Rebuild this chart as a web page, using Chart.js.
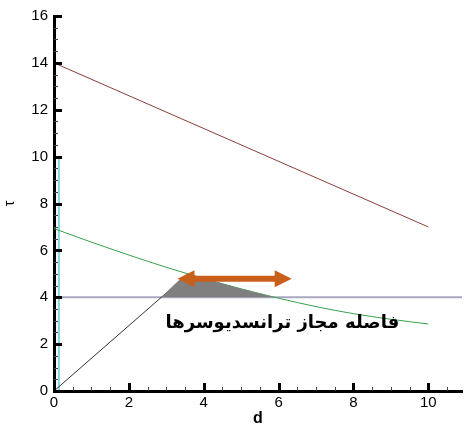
<!DOCTYPE html>
<html>
<head>
<meta charset="utf-8">
<script src="https://cdn.jsdelivr.net/npm/chart.js@4.4.1/dist/chart.umd.min.js"></script>
<style>
  html, body { margin: 0; padding: 0; background: #ffffff; }
  #wrap { width: 464px; height: 425px; }
</style>
</head>
<body>
<div id="wrap"><canvas id="c" width="464" height="425"></canvas></div>
<script>
// Axis ranges and tick labels
const xMax = 10.9;
const yMax = 16;
const tickStep = 2;

// Upper straight line
const upperD = [0, 10];
const upperTau = [14, 7];

// Decaying curve
const decayD = [0, 1, 2, 3, 4, 5, 6, 7, 8, 9, 10];
const decayTau = [6.93, 6.35, 5.8, 5.28, 4.8, 4.36, 3.96, 3.6, 3.3, 3.06, 2.86];

// Ramp from the origin
const rampD = [0, 3.55];
const rampTau = [0, 4.95];

// Horizontal limit
const limitD = [0, 10.9];
const limitTau = [4, 4];

// Vertical marker near d = 0
const markerD = [0.13, 0.13];
const markerTau = [0, 9.9];

// Shaded band above the limit
const bandD = [2.87, 3.55, 4, 5, 5.88];
const bandTau = [4, 4.95, 4.8, 4.36, 4.0];

// Double arrow span
const spanD = [3.3, 6.35];
const spanTau = 4.79;

// Annotation text and its anchor
const noteText = 'فاصله مجاز ترانسدیوسرها';
const noteD = 6.1;
const noteTau = 2.9;

const pts = (xs, ys) => xs.map((v, i) => ({ x: v, y: ys[i] }));

const innerTicks = {
  id: 'innerTicks',
  afterDraw(chart) {
    const { ctx, chartArea: a, scales: { x, y } } = chart;
    ctx.save();
    // x axis ticks pointing up into the plot
    for (let k = 0; k * 0.5 <= xMax + 1e-9; k++) {
      const v = k * 0.5;
      const px = Math.round(x.getPixelForValue(v)) + 0.5;
      const major = k % 4 === 0;
      ctx.beginPath();
      ctx.strokeStyle = major ? '#000' : '#444';
      ctx.lineWidth = major ? 3 : 1;
      ctx.moveTo(px, a.bottom);
      ctx.lineTo(px, a.bottom - (major ? 8 : 4));
      ctx.stroke();
    }
    // y axis ticks pointing right into the plot
    for (let k = 0; k * 0.5 <= yMax + 1e-9; k++) {
      const v = k * 0.5;
      const py = Math.round(y.getPixelForValue(v)) + 0.5;
      const major = k % 4 === 0;
      ctx.beginPath();
      ctx.strokeStyle = major ? '#000' : '#444';
      ctx.lineWidth = major ? 3 : 1;
      ctx.moveTo(a.left, py);
      ctx.lineTo(a.left + (major ? 8 : 4), py);
      ctx.stroke();
    }
    ctx.restore();
  }
};

const spanArrow = {
  id: 'spanArrow',
  afterDatasetsDraw(chart) {
    const { ctx, scales: { x, y } } = chart;
    const x1 = x.getPixelForValue(spanD[0]);
    const x2 = x.getPixelForValue(spanD[1]);
    const py = y.getPixelForValue(spanTau);
    const head = 17, half = 8.5;
    ctx.save();
    ctx.fillStyle = '#c85f1a';
    ctx.strokeStyle = '#c85f1a';
    ctx.lineWidth = 6;
    ctx.beginPath();
    ctx.moveTo(x1 + head - 2, py);
    ctx.lineTo(x2 - head + 2, py);
    ctx.stroke();
    ctx.beginPath();
    ctx.moveTo(x1, py);
    ctx.lineTo(x1 + head, py - half);
    ctx.lineTo(x1 + head, py + half);
    ctx.closePath();
    ctx.fill();
    ctx.beginPath();
    ctx.moveTo(x2, py);
    ctx.lineTo(x2 - head, py - half);
    ctx.lineTo(x2 - head, py + half);
    ctx.closePath();
    ctx.fill();

    // annotation text
    ctx.fillStyle = '#000';
    ctx.font = 'bold 18px "DejaVu Sans", sans-serif';
    ctx.direction = 'rtl';
    ctx.textAlign = 'center';
    ctx.textBaseline = 'middle';
    ctx.fillText(noteText, x.getPixelForValue(noteD), y.getPixelForValue(noteTau));
    ctx.restore();
  }
};

const lineSet = (data, color, width) => ({
  data, borderColor: color, borderWidth: width, showLine: true,
  pointRadius: 0, fill: false, tension: 0
});

new Chart(document.getElementById('c'), {
  type: 'scatter',
  data: {
    datasets: [
      {
        data: pts(bandD, bandTau), showLine: true, borderWidth: 0,
        borderColor: 'rgba(0,0,0,0)', backgroundColor: '#7f7f7f',
        pointRadius: 0, fill: { value: 4 }, tension: 0.3
      },
      lineSet(pts(upperD, upperTau), '#8c3c3c', 1),
      Object.assign(lineSet(pts(decayD, decayTau), '#3aa04a', 1), { tension: 0.4, cubicInterpolationMode: 'monotone' }),
      lineSet(pts(rampD, rampTau), '#333333', 1),
      lineSet(pts(limitD, limitTau), '#a8a8c0', 2),
      lineSet(pts(markerD, markerTau), '#7fd6de', 2)
    ]
  },
  options: {
    responsive: false,
    devicePixelRatio: 1,
    animation: false,
    layout: { padding: { top: 16, right: 2, left: 0, bottom: 0 } },
    plugins: { legend: { display: false }, tooltip: { enabled: false } },
    scales: {
      x: {
        type: 'linear', min: 0, max: xMax,
        grid: { display: false, drawTicks: false, tickLength: 0 },
        border: { display: true, color: '#000', width: 3 },
        ticks: {
          stepSize: tickStep, includeBounds: false, padding: 3,
          color: '#000', font: { family: '"Liberation Sans", Arial, sans-serif', size: 15 }
        },
        title: {
          display: true, text: 'd', color: '#000', padding: { top: 0, bottom: -2 },
          font: { family: '"Liberation Sans", Arial, sans-serif', size: 16, weight: 'bold', lineHeight: 1 }
        },
        afterFit(s) { s.height = 34; }
      },
      y: {
        type: 'linear', min: 0, max: yMax,
        grid: { display: false, drawTicks: false, tickLength: 0 },
        border: { display: true, color: '#000', width: 3 },
        ticks: {
          stepSize: tickStep, padding: 6,
          color: '#000', font: { family: '"Liberation Sans", Arial, sans-serif', size: 15 }
        },
        title: {
          display: true, text: 'τ', color: '#000', padding: 3,
          font: { family: '"Liberation Sans", Arial, sans-serif', size: 14, lineHeight: 1 }
        },
        afterFit(s) { s.width = 54; }
      }
    }
  },
  plugins: [innerTicks, spanArrow]
});
</script>
</body>
</html>
